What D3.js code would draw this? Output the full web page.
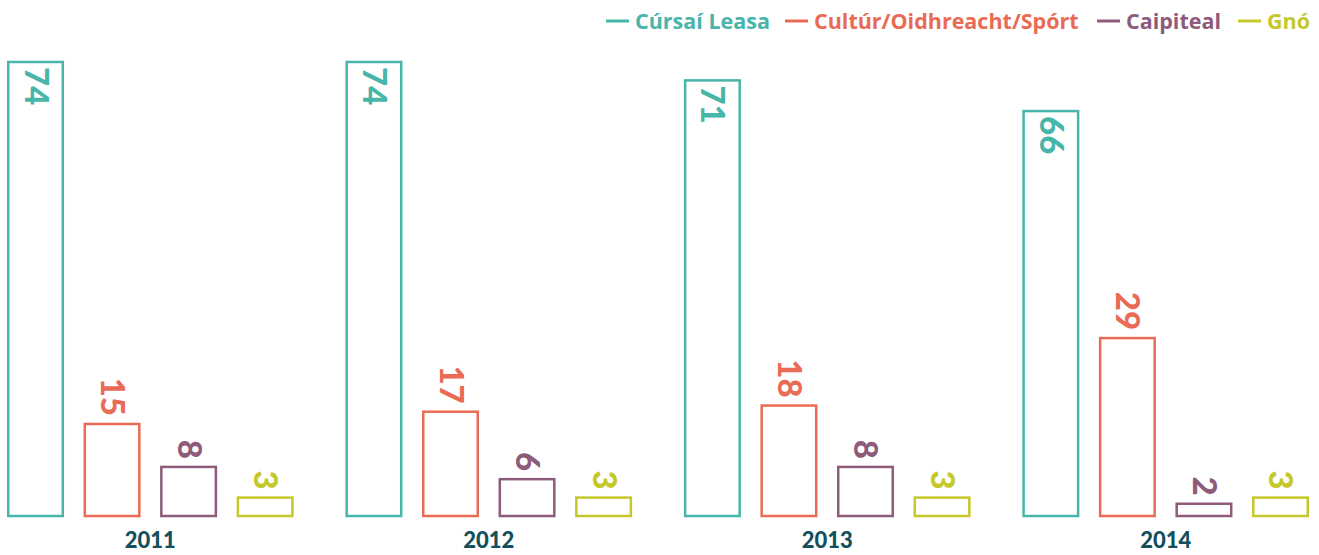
<!DOCTYPE html>
<html>
<head>
<meta charset="utf-8">
<script src="https://cdn.jsdelivr.net/npm/d3@7"></script>
<style>
  body { margin: 0; background: #fff; }
  svg { display: block; }
  .value { font-family: Lato, sans-serif; font-weight: 900; font-size: 33px; }
  .year { font-family: Lato, sans-serif; font-weight: 900; font-size: 22px; fill: #134f5c; }
  .legend text { font-family: "Open Sans", sans-serif; font-weight: 700; font-size: 21.5px; }
</style>
</head>
<body>
<div id="chart"></div>
<script>
const years = ["2011", "2012", "2013", "2014"];
const series = ["Cúrsaí Leasa", "Cultúr/Oidhreacht/Spórt", "Caipiteal", "Gnó"];
const colours = ["#47b5a9", "#ea6b55", "#8e5b7b", "#c5c82a"];
const cursai = [74, 74, 71, 66];
const cultur = [15, 17, 18, 29];
const caipiteal = [8, 6, 8, 2];
const gno = [3, 3, 3, 3];

const width = 1319, height = 555;
const baseline = 516;
const seriesValues = [cursai, cultur, caipiteal, gno];

const dataset = years.map((year, i) => ({
    year: year,
    values: series.map((s, j) => ({ key: s, value: seriesValues[j][i], colour: colours[j] }))
}));

const svg = d3.select("#chart")
    .append("svg")
        .attr("width", width)
        .attr("height", height);

const x0 = d3.scaleBand()
    .domain(years)
    .range([7, 1309])
    .paddingInner(0.153);

const x1 = d3.scaleBand()
    .domain(series)
    .range([0, x0.bandwidth()])
    .paddingInner(0.255);

const y = d3.scaleLinear()
    .domain([0, 74])
    .range([baseline, 62]);

const groups = svg.selectAll("g.group")
    .data(dataset)
    .enter()
    .append("g")
        .attr("class", "group")
        .attr("transform", d => `translate(${ x0(d.year) }, 0)`);

groups.selectAll("rect")
    .data(d => d.values)
    .enter()
    .append("rect")
        .attr("x", d => x1(d.key) + 1.25)
        .attr("y", d => y(d.value))
        .attr("width", x1.bandwidth() - 2.5)
        .attr("height", d => baseline - y(d.value))
        .attr("fill", "#fff")
        .attr("stroke", d => d.colour)
        .attr("stroke-width", 2.5);

groups.selectAll("text.value")
    .data(d => d.values)
    .enter()
    .append("text")
        .attr("class", "value")
        .attr("fill", d => d.colour)
        .attr("dominant-baseline", "central")
        .attr("text-anchor", d => d.value > 50 ? "start" : "end")
        .attr("transform", d => {
            let cx = x1(d.key) + x1.bandwidth() / 2 + 2;
            let cy = d.value > 50 ? y(d.value) + 5 : y(d.value) - 8;
            return `translate(${ cx }, ${ cy }) rotate(90)`;
        })
        .text(d => d.value);

groups.append("text")
    .attr("class", "year")
    .attr("x", x0.bandwidth() / 2)
    .attr("y", 548)
    .attr("text-anchor", "middle")
    .text(d => d.year);

// legend
const legendX = [606, 785, 1097, 1238];
const legend = svg.append("g").attr("class", "legend");
series.forEach((s, i) => {
    legend.append("line")
        .attr("x1", legendX[i])
        .attr("x2", legendX[i] + 23)
        .attr("y1", 21)
        .attr("y2", 21)
        .attr("stroke", colours[i])
        .attr("stroke-width", 3);
    legend.append("text")
        .attr("x", legendX[i] + 29)
        .attr("y", 28.5)
        .attr("fill", colours[i])
        .text(s);
});
</script>
</body>
</html>
